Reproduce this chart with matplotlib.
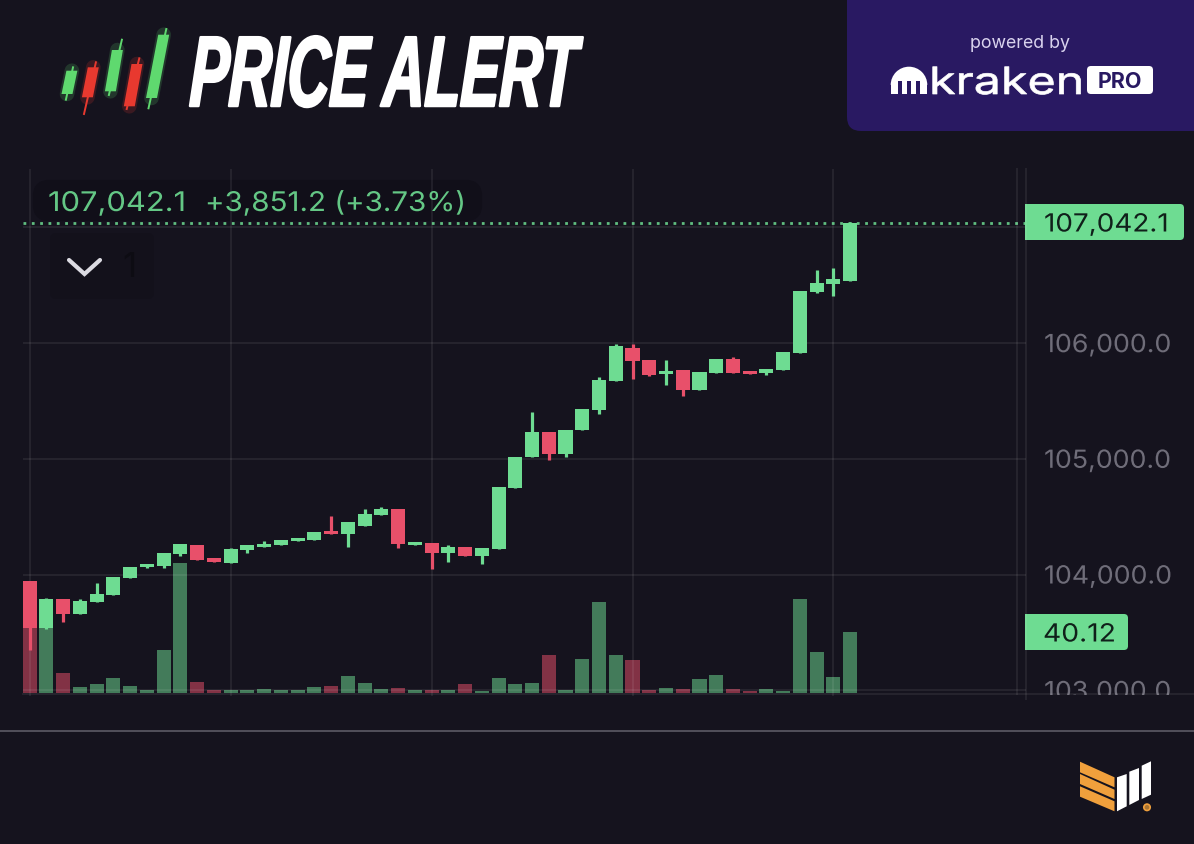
import matplotlib
matplotlib.use("Agg")
import matplotlib.pyplot as plt
from matplotlib.patches import FancyBboxPatch, Polygon, Rectangle, Wedge, Circle
from matplotlib.patheffects import AbstractPathEffect
from matplotlib.transforms import Affine2D

# candles, oldest first: open, close, high, low
opens = [103943, 103539, 103790, 103655, 103759, 103825, 103969, 104064, 104070, 104176,
         104254, 104139, 104098, 104211, 104240, 104251, 104289, 104295, 104378, 104346,
         104418, 104513, 104563, 104254, 104271, 104182, 104240, 104159, 104217, 104747,
         105015, 105231, 105038, 105248, 105421, 105671, 105954, 105853, 105732, 105767,
         105591, 105743, 105862, 105760, 105743, 105767, 105913, 106441, 106515, 106539]
closes = [103539, 103790, 103655, 103768, 103830, 103980, 104061, 104087, 104182, 104263,
          104122, 104110, 104217, 104254, 104265, 104295, 104312, 104369, 104352, 104450,
          104522, 104563, 104263, 104283, 104182, 104240, 104159, 104225, 104753, 105015,
          105231, 105038, 105248, 105429, 105680, 105974, 105847, 105726, 105749, 105591,
          105749, 105862, 105743, 105735, 105775, 105920, 106449, 106522, 106550, 107042]
highs = [103945, 103799, 103790, 103787, 103928, 103980, 104061, 104087, 104182, 104263,
         104254, 104139, 104231, 104254, 104289, 104295, 104312, 104369, 104505, 104450,
         104563, 104585, 104563, 104283, 104271, 104254, 104240, 104225, 104753, 105015,
         105404, 105231, 105248, 105429, 105709, 105989, 105989, 105853, 105853, 105767,
         105749, 105862, 105879, 105760, 105775, 105920, 106449, 106631, 106646, 107048]
lows = [103347, 103528, 103591, 103655, 103759, 103825, 103969, 104055, 104055, 104159,
        104122, 104110, 104098, 104185, 104240, 104251, 104289, 104295, 104352, 104240,
        104418, 104513, 104231, 104254, 104047, 104110, 104159, 104087, 104217, 104747,
        105015, 104989, 105015, 105248, 105384, 105671, 105689, 105717, 105637, 105542,
        105591, 105743, 105743, 105735, 105721, 105767, 105913, 106430, 106406, 106539]
volumes = [43, 43, 13, 3.9, 6.1, 10.2, 4.8, 2.4, 28.3, 85.1,
           7.4, 2, 2.2, 2, 2.8, 2.2, 2, 4.2, 4.8, 11.6,
           6.5, 3.1, 3.5, 2, 2.2, 2.4, 6.1, 1.8, 10.3, 6.1,
           6.5, 25, 2.2, 22.5, 59.6, 24.9, 21.8, 2.2, 3.5, 3,
           9.2, 12, 3, 1.7, 2.8, 1.7, 62, 27.3, 10.7, 40.12]

price_ticks = [103000, 104000, 105000, 106000, 107000]
price_labels = ["103,000.0", "104,000.0", "105,000.0", "106,000.0", ""]
time_ticks = [0, 12, 24, 36, 48]
last_price = 107042.1

BG = "#15131e"
GREEN = "#6edc92"
RED = "#e8506a"
LINE = (1, 1, 1, 0.07)
PURPLE = "#291962"

plt.rcParams["font.family"] = ["Inter", "DejaVu Sans"]
W, H = 1194, 845
fig = plt.figure(figsize=(W / 100, H / 100), dpi=100, facecolor=BG)


class Squeeze(AbstractPathEffect):
    # widens or narrows a text's glyphs, and can slant and thicken them
    def __init__(self, sx=1.0, skew=0.0, stroke=0.0):
        super().__init__()
        self.sx, self.skew, self.stroke = sx, skew, stroke

    def draw_path(self, renderer, gc, tpath, affine, rgbFace=None):
        gc2 = renderer.new_gc()
        gc2.copy_properties(gc)
        gc2.set_linewidth(self.stroke)
        if self.stroke:
            gc2.set_foreground(rgbFace)
        renderer.draw_path(gc2, tpath, Affine2D().skew_deg(self.skew, 0).scale(self.sx, 1) + affine, rgbFace)
        gc2.restore()


def px_axes(x0, y0, x1, y1):
    return [x0 / W, 1 - y1 / H, (x1 - x0) / W, (y1 - y0) / H]


def px_overlay(z):
    a = fig.add_axes([0, 0, 1, 1])
    a.set_xlim(0, W)
    a.set_ylim(H, 0)
    a.axis("off")
    a.set_zorder(z)
    return a


back = px_overlay(1)

# chart area
ax = fig.add_axes(px_axes(23, 170, 1026, 697))
ax.set_xlim(-0.4, 59.5)
ax.set_ylim(102950, 107505)
ax.patch.set_visible(False)
ax.set_zorder(3)
for s in ax.spines.values():
    s.set_visible(False)

ax_vol = ax.twinx()
ax_vol.set_ylim(-1.75, 343.15)
ax_vol.set_yticks([])
ax_vol.set_zorder(2)
ax_vol.patch.set_visible(False)
for s in ax_vol.spines.values():
    s.set_visible(False)

idx = list(range(len(opens)))
colors = [GREEN if c >= o else RED for o, c in zip(opens, closes)]
ax_vol.bar(idx, volumes, width=0.84, color=colors, alpha=0.52, linewidth=0)

ax.vlines(idx, lows, highs, colors=colors, linewidth=2.3, zorder=4)
ax.bar(idx, [max(abs(c - o), 25) for o, c in zip(opens, closes)],
       bottom=[min(o, c) for o, c in zip(opens, closes)],
       width=0.84, color=colors, linewidth=0, zorder=5)

ax.yaxis.tick_right()
ax.set_yticks(price_ticks)
ax.set_yticklabels(price_labels, fontsize=18, color="#6f6d79")
for t in ax.get_yticklabels():
    t.set_path_effects([Squeeze(sx=1.07)])
ax.set_xticks(time_ticks)
ax.set_xticklabels([])
ax.tick_params(length=0)
ax.tick_params(axis="y", pad=13)
ax.grid(True, color="white", alpha=0.07, linewidth=1.5, zorder=1)
ax.set_axisbelow(True)
ax.axhline(last_price, color=GREEN, alpha=0.85, linewidth=2, linestyle=(0, (1, 2)), zorder=6)

# overlay in pixel coordinates for labels and logos
deco = px_overlay(5)

deco.add_patch(Rectangle((1030, 696), 164, 34, color=BG, lw=0))
deco.plot([23, W], [695, 695], color=LINE, lw=1.5)
deco.plot([1017, 1017], [170, 695], color=LINE, lw=1.5)
deco.plot([1026, 1026], [170, 700], color=LINE, lw=1.5)
deco.plot([0, W], [732, 732], color="#5d5b66", lw=1.2)

# last value text box
back.add_patch(FancyBboxPatch((37, 185), 441, 33, boxstyle="round,pad=0,rounding_size=12",
                              fc="#110f19", ec="#110f19", lw=6))
back.add_patch(FancyBboxPatch((50, 234), 104, 66, boxstyle="round,pad=0,rounding_size=6",
                              fc="#13111b", ec="none"))
deco.text(48, 205, "107,042.1", color=GREEN, fontsize=19.5, va="center", alpha=0.9,
          path_effects=[Squeeze(sx=1.14)])
deco.text(205, 205, "+3,851.2 (+3.73%)", color=GREEN, fontsize=19.5, va="center", alpha=0.9,
          path_effects=[Squeeze(sx=1.09)])
deco.plot([69, 84.5, 100], [261, 275, 261], color="#dcdbe2", lw=3, solid_capstyle="round", solid_joinstyle="miter")
deco.text(122, 268, "1", color="#0d0c13", fontsize=25, va="center")

# tags on the price scale
deco.add_patch(FancyBboxPatch((1025, 205), 159, 36, boxstyle="round,pad=0,rounding_size=4", fc=GREEN, ec="none"))
deco.add_patch(Rectangle((1025, 205), 8, 36, fc=GREEN, ec="none"))
deco.text(1044, 226, "107,042.1", color="#10201a", fontsize=18, va="center",
          path_effects=[Squeeze(sx=1.115)])
deco.add_patch(FancyBboxPatch((1025, 615), 103, 36, boxstyle="round,pad=0,rounding_size=4", fc=GREEN, ec="none"))
deco.add_patch(Rectangle((1025, 615), 8, 36, fc=GREEN, ec="none"))
deco.text(1043, 636, "40.12", color="#10201a", fontsize=18, va="center",
          path_effects=[Squeeze(sx=1.13)])

# header
icon_green = "#5fd96f"
icon_red = "#e8392f"
icon_candles = [((71.9, 71.7), (67, 95), (73, 68.3), (65.9, 100.7), icon_green),
                ((93.3, 68.3), (87.4, 98.3), (95.9, 63.3), (84, 115), icon_red),
                ((117.4, 51), (110.4, 92.3), (121.9, 40.7), (108.9, 96), icon_green),
                ((137, 65), (129.3, 107.3), (139.3, 59.3), (126.7, 110), icon_red),
                ((163.7, 35.7), (151.5, 99), (166.3, 30), (148.5, 109.3), icon_green)]
for top, bot, wt, wb, col in icon_candles:
    deco.plot([top[0], bot[0]], [top[1], bot[1]], color=col, lw=10.5, alpha=0.18, solid_capstyle="round")
    deco.plot([wt[0], wb[0]], [wt[1], wb[1]], color=col, lw=1.4)
    deco.add_patch(Polygon([(top[0] - 5.5, top[1]), (top[0] + 5.5, top[1]), (bot[0] + 5.5, bot[1]), (bot[0] - 5.5, bot[1])],
                           fc=col, ec="none"))
deco.text(189, 107, "PRICE ALERT", color="white", fontsize=72, family="Liberation Sans",
          weight="bold", style="italic", va="baseline", ha="left",
          path_effects=[Squeeze(sx=0.585, skew=4, stroke=1.8)])

# sponsor panel
deco.add_patch(FancyBboxPatch((847, -30), 400, 162, boxstyle="round,pad=0,rounding_size=14", fc=PURPLE, ec="none"))
deco.text(1020, 43, "powered by", color="#d9d3ee", fontsize=12.8, ha="center", va="center")
deco.add_patch(Wedge((909, 86), 18.3, 180, 360, fc="white", ec="none"))
deco.add_patch(Rectangle((890.7, 85), 36.6, 10, fc="white", ec="none"))
for sx in [900, 909, 918]:
    deco.add_patch(Rectangle((sx - 1.7, 82), 3.4, 14, fc=PURPLE, ec="none"))
deco.text(929, 95, "kraken", color="white", fontsize=27, va="baseline",
          path_effects=[Squeeze(sx=1.29, stroke=0.5)])
deco.add_patch(FancyBboxPatch((1087, 67), 66, 28, boxstyle="round,pad=0,rounding_size=4", fc="white", ec="none"))
deco.text(1120, 81.5, "PRO", color=PURPLE, fontsize=15.5, weight="bold", ha="center", va="center")

# footer logo
orange = "#f0a03c"
for left_top, left_bot, right_top, right_bot in [(762.7, 773.3, 778.3, 788.3), (775, 785, 790.7, 800),
                                                 (787.3, 797.7, 802.3, 812.3)]:
    deco.add_patch(Polygon([(1080, left_top), (1114.5, right_top), (1114.5, right_bot), (1080, left_bot)],
                           fc=orange, ec="none"))
for x0, x1, lt, rt, lb, rb in [(1117, 1126.7, 778.3, 775, 812.3, 807.3), (1129.3, 1139, 772.7, 769, 806, 801),
                               (1141.7, 1151, 766.7, 762.3, 800, 795.7)]:
    deco.add_patch(Polygon([(x0, lt), (x1, rt), (x1, rb), (x0, lb)], fc="white", ec="none"))
deco.add_patch(Circle((1147, 808.3), 3.2, fc="#a87432", ec=orange, lw=1.2))

fig.savefig("out.png", dpi=100, facecolor=BG)
